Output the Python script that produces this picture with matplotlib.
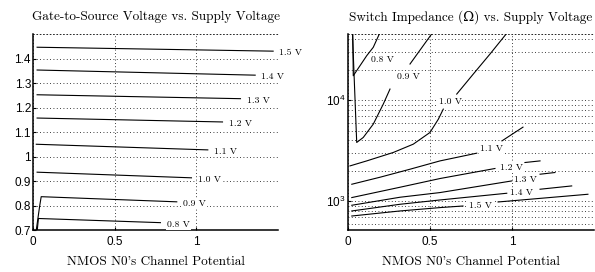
import numpy as np
import matplotlib
matplotlib.use("Agg")
from matplotlib import pyplot as plt
from matplotlib.ticker import FuncFormatter, LogLocator, NullFormatter

plt.rcParams['font.family'] = ['Liberation Sans', 'DejaVu Sans']
plt.rcParams['mathtext.fontset'] = 'custom'
plt.rcParams['mathtext.rm'] = 'Liberation Sans'
plt.rcParams['mathtext.it'] = 'Liberation Sans'
plt.rcParams['axes.formatter.use_mathtext'] = True

serif = ['cmr10', 'DejaVu Serif']

# Supply voltages (one curve each)
vdd_labels = ['0.8 V', '0.9 V', '1.0 V', '1.1 V', '1.2 V', '1.3 V', '1.4 V', '1.5 V']

# Left: gate-to-source voltage vs channel potential
vgs_x = [
    [0.026, 0.033, 0.78],
    [0.02, 0.04, 0.05, 0.88],
    [0.025, 0.97],
    [0.02, 1.07],
    [0.025, 1.16],
    [0.025, 1.27],
    [0.025, 1.36],
    [0.025, 1.47],
]
vgs_y = [
    [0.70, 0.747, 0.730],
    [0.70, 0.795, 0.836, 0.815],
    [0.936, 0.913],
    [1.050, 1.027],
    [1.157, 1.141],
    [1.252, 1.236],
    [1.353, 1.332],
    [1.446, 1.430],
]

# Right: switch impedance (ohm) vs channel potential
imp_x = [
    [0.029, 0.032, 0.073, 0.114, 0.154, 0.191],
    [0.027, 0.053, 0.093, 0.154, 0.215, 0.256, 0.378, 0.51],
    [0.012, 0.114, 0.276, 0.398, 0.5, 0.551, 0.581, 0.663, 0.764, 0.866, 0.968],
    [0.023, 0.195, 0.378, 0.561, 0.785, 0.939, 1.067],
    [0.023, 0.317, 0.561, 0.896, 1.079, 1.171],
    [0.023, 0.317, 0.561, 0.998, 1.171, 1.262],
    [0.023, 0.317, 0.561, 0.968, 1.171, 1.364],
    [0.023, 0.317, 0.561, 0.701, 0.915, 1.463],
]
imp_y = [
    [46000, 17400, 21860, 27460, 33240, 45030],
    [46000, 3813, 4273, 5787, 9129, 12850, 22720, 45030],
    [2236, 2506, 3036, 3668, 4788, 6484, 8143, 11467, 18090, 28540, 45750],
    [1473, 1728, 2074, 2506, 2987, 3954, 5404],
    [1088, 1376, 1678, 2108, 2416, 2506],
    [913, 1096, 1219, 1588, 1851, 1924],
    [802, 934, 1030, 1200, 1315, 1418],
    [715, 802, 866, 898, 984, 1173],
]
# curve is broken for its inline label after this point index (None = unbroken)
imp_gap = [None, 5, 6, 4, 3, 3, 3, 3]
imp_label_x = [0.207, 0.366, 0.622, 0.876, 0.997, 1.082, 1.055, 0.808]
imp_label_y = [24890, 16890, 9663, 3273, 2123, 1614, 1200, 892]

fig = plt.figure(figsize=(5.95, 2.72), dpi=100)
ax1 = fig.add_axes([0.0555, 0.1544, 0.4118, 0.7206])
ax2 = fig.add_axes([0.5849, 0.1544, 0.4134, 0.7206])

grid_kw = dict(color='black', linestyle=(0, (1, 3)), linewidth=0.6)
label_kw = dict(family=serif, fontsize=7,
                bbox=dict(boxstyle='square,pad=0.1', facecolor='white', edgecolor='none'))

for ax in (ax1, ax2):
    ax.spines['right'].set_visible(False)
    ax.spines['top'].set_linestyle((0, (1, 3)))
    ax.spines['top'].set_linewidth(0.6)
    ax.spines['left'].set_linewidth(1.1)
    ax.spines['bottom'].set_linewidth(1.1)
    ax.tick_params(direction='in', length=2, labelsize=8.5, width=0.8)
    ax.tick_params(axis='y', pad=1.5)
    ax.tick_params(axis='x', pad=4)
    ax.set_xlim(0, 1.5)
    ax.set_xticks([0, 0.5, 1])
    ax.xaxis.set_major_formatter(FuncFormatter(lambda v, p: '%g' % v))
    ax.set_xlabel("NMOS N0's Channel Potential", family=serif, fontsize=9.5)
    ax.xaxis.set_label_coords(0.5, -0.13)

# Left panel
for xs, ys, lab in zip(vgs_x, vgs_y, vdd_labels):
    ax1.plot(xs, ys, color='black', linewidth=0.8)
    ax1.annotate(lab, (xs[-1], ys[-1]), xytext=(4.5, -1.5), textcoords='offset points',
                 ha='left', va='center', annotation_clip=False, **label_kw)
ax1.set_ylim(0.7, 1.5)
ax1.set_yticks(np.arange(0.7, 1.45, 0.1))
ax1.yaxis.set_major_formatter(FuncFormatter(lambda v, p: '%g' % round(v, 2)))
ax1.grid(True, **grid_kw)
ax1.set_title('Gate-to-Source Voltage vs. Supply Voltage', family=serif, fontsize=9.5, pad=10)

# Right panel
ax2.set_yscale('log')
for xs, ys, k, lx, ly, lab in zip(imp_x, imp_y, imp_gap, imp_label_x, imp_label_y, vdd_labels):
    if k is None:
        ax2.plot(xs, ys, color='black', linewidth=0.8)
    else:
        ax2.plot(xs[:k + 1], ys[:k + 1], color='black', linewidth=0.8)
        ax2.plot(xs[k + 1:], ys[k + 1:], color='black', linewidth=0.8)
    ax2.text(lx, ly, lab, ha='center', va='center', **label_kw)
ax2.set_ylim(520, 45000)
ax2.yaxis.set_major_locator(LogLocator(base=10))
ax2.yaxis.set_minor_locator(LogLocator(base=10, subs=np.arange(2, 10)))
ax2.yaxis.set_minor_formatter(NullFormatter())
ax2.tick_params(axis='y', which='minor', length=0)
ax2.grid(True, which='major', **grid_kw)
ax2.grid(True, which='minor', axis='y', **grid_kw)
ax2.set_title('Switch Impedance (Ω) vs. Supply Voltage', family=serif, fontsize=9.5, pad=10)

fig.savefig('out.png', dpi=100)
